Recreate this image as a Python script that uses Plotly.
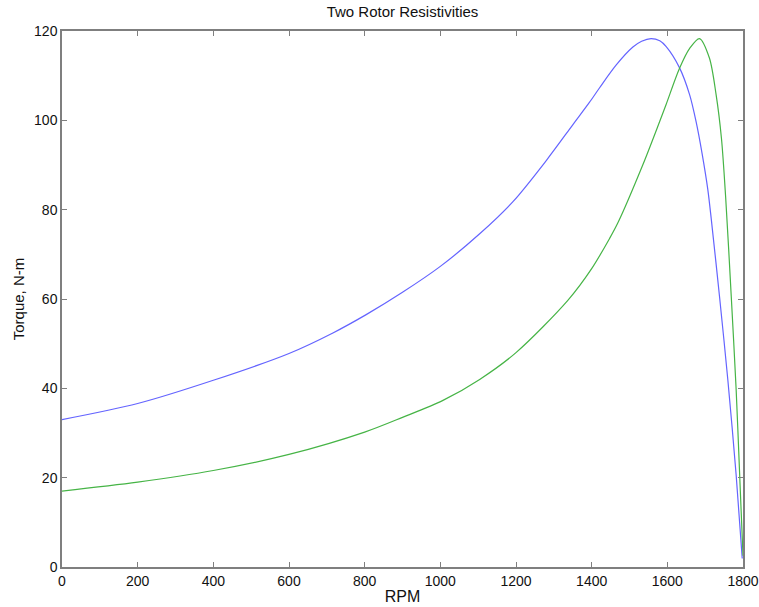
import plotly.graph_objects as go

# Blue curve
blue_rpm = [0, 200, 400, 600, 716, 804, 900, 1000, 1104, 1192, 1280, 1350, 1394, 1421,
            1465, 1509, 1532, 1557, 1580, 1597, 1632, 1659, 1676, 1692, 1707, 1716, 1738, 1760, 1782, 1798]
blue_torque = [33.0, 36.6, 41.8, 47.8, 52.4, 56.5, 61.5, 67.3, 74.6, 81.8, 91.0, 99.0, 104.0, 107.3,
               112.4, 116.4, 117.7, 118.3, 117.8, 116.5, 111.8, 105.7, 99.7, 92.5, 84.5, 78.0, 60.5, 41.8, 20.5, 1.9]

# Green curve
green_rpm = [0, 200, 400, 600, 800, 900, 1007, 1104, 1200, 1337, 1400, 1447, 1469, 1535,
             1580, 1597, 1632, 1659, 1685, 1711, 1729, 1743, 1754, 1769, 1782, 1791, 1800]
green_torque = [17.0, 19.0, 21.6, 25.2, 30.2, 33.5, 37.3, 42.0, 48.0, 59.7, 66.8, 73.5, 77.0, 90.0,
                99.8, 103.6, 111.6, 116.1, 118.3, 114.0, 105.7, 96.0, 83.0, 60.5, 39.5, 21.0, 2.5]

x_ticks = [0, 200, 400, 600, 800, 1000, 1200, 1400, 1600, 1800]
y_ticks = [0, 20, 40, 60, 80, 100, 120]

fig = go.Figure()
fig.add_trace(go.Scatter(x=blue_rpm, y=blue_torque, mode="lines",
                         line=dict(color="rgb(100,100,255)", width=1.2, shape="spline", smoothing=0.85),
                         showlegend=False))
fig.add_trace(go.Scatter(x=green_rpm, y=green_torque, mode="lines",
                         line=dict(color="rgb(70,180,70)", width=1.2, shape="spline", smoothing=0.85),
                         showlegend=False))

fam = "Liberation Sans, Arial, sans-serif"
font = dict(family=fam, size=14, color="#111111")
axis_common = dict(showline=True, linecolor="#7f7f7f", linewidth=1.5, mirror="ticks",
                   ticks="inside", ticklen=5, tickcolor="#7f7f7f", tickwidth=1,
                   showgrid=False, zeroline=False, tickfont=font, automargin=False)

fig.update_layout(
    width=759, height=607,
    margin=dict(l=62, r=16, t=31, b=40),
    paper_bgcolor="white", plot_bgcolor="white",
    title=dict(text="Two Rotor Resistivities", xref="paper", x=0.5, xanchor="center",
               yref="container", y=1 - 6 / 607, yanchor="top",
               font=dict(family=fam, size=15, color="#111111")),
    xaxis=dict(range=[0, 1800], tickvals=x_ticks,
               title=dict(text="RPM", font=dict(family=fam, size=16, color="#111111"), standoff=3),
               **axis_common),
    yaxis=dict(range=[0, 120], tickvals=y_ticks,
               title=dict(text="Torque, N-m", font=dict(family=fam, size=15, color="#111111"), standoff=6),
               **axis_common),
)

fig.write_html("out.html", config={"displayModeBar": False},
               post_script="document.body.style.margin='0';document.body.style.padding='0';")
